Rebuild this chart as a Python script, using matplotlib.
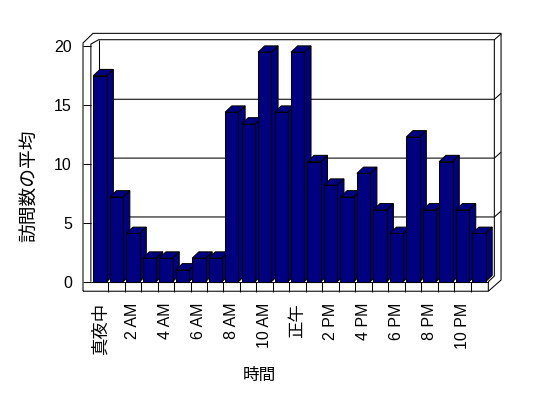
import matplotlib
matplotlib.use("Agg")
import matplotlib.pyplot as plt
from matplotlib.patches import Rectangle, Polygon

plt.rcParams['font.family'] = ['Liberation Sans', 'Noto Sans CJK JP']

# average visits per hour (0..23)
hours = list(range(24))
visits = [17.5, 7.2, 4.1, 2.0, 2.0, 1.0, 2.0, 2.0, 14.4, 13.4, 19.5, 14.4,
          19.5, 10.2, 8.2, 7.2, 9.2, 6.1, 4.1, 12.3, 6.1, 10.2, 6.1, 4.1]
tick_hours = [0, 2, 4, 6, 8, 10, 12, 14, 16, 18, 20, 22]
tick_labels = ['真夜中', '2 AM', '4 AM', '6 AM', '8 AM', '10 AM',
               '正午', '2 PM', '4 PM', '6 PM', '8 PM', '10 PM']
y_ticks = [0, 5, 10, 15, 20]

navy = '#000080'
lw = 0.75
dx, dy = 0.405, 0.535      # depth of a bar (oblique projection)
bx, by = 0.425, 0.5        # offset of the back wall

fig = plt.figure(figsize=(5.48, 3.98), dpi=100)
ax = fig.add_axes([83 / 548, 106.3 / 398, 419 / 548, 258.7 / 398])
ax.set_xlim(-0.528, 24.91)
ax.set_ylim(-0.85, 21.13)
for s in ax.spines.values():
    s.set_visible(False)


def line(xs, ys, z=1):
    ax.plot(xs, ys, color='black', lw=lw, clip_on=False, zorder=z,
            solid_capstyle='butt')


# walls / floor frame
line([-0.528, -0.528, 0.079, 24.852, 24.852, 24.08, -0.528],
     [-0.81, 20.28, 21.1, 21.1, 0.14, -0.81, -0.81])
line([-0.05, -0.05, bx, 24.445, 24.852], [0, 20.19, 20.56, 20.56, 21.05])
line([bx, bx], [20.56, by])
line([24.445, 24.445, 24.08, 24.08], [20.56, 0.48, 0, -0.81])
line([-0.05, 24.08], [0, 0], z=5)

# gridlines on the back wall
for g in y_ticks[1:-1]:
    line([bx, 24.445, 24.852], [g + by, g + by, g + by + 0.5], z=2)

# 3d bars, drawn left to right
for i, v in zip(hours, visits):
    x0, x1 = i + 0.1, i + 0.91
    z = 3 + i * 0.01
    ax.add_patch(Polygon([(x1, 0), (x1 + dx, dy), (x1 + dx, v + dy), (x1, v)],
                         closed=True, fc=navy, ec='black', lw=lw, zorder=z))
    ax.add_patch(Polygon([(x0, v), (x0 + dx, v + dy), (x1 + dx, v + dy), (x1, v)],
                         closed=True, fc=navy, ec='black', lw=lw, zorder=z))
    ax.add_patch(Rectangle((x0, 0), x1 - x0, v, fc=navy, ec='black',
                           lw=lw, zorder=z))

# axes ticks
ax.set_yticks(y_ticks)
ax.tick_params(axis='y', direction='in', length=5.8, width=lw, pad=8,
               labelsize=11.5)
ax.set_xticks([h + 0.5 for h in tick_hours])
ax.set_xticklabels(tick_labels, rotation=90, fontsize=11.5)
ax.set_xticks(list(range(1, 24)), minor=True)
ax.tick_params(axis='x', which='major', length=0, pad=8)
ax.tick_params(axis='x', which='minor', direction='in', length=7.2, width=lw)
for t in ax.get_xticklabels():
    if t.get_text() in ('真夜中', '正午'):
        t.set_fontsize(12.5)

ax.set_ylabel('訪問数の平均', fontsize=13.5)
ax.yaxis.label.set_va('center')
ax.yaxis.set_label_coords(-0.1246, 0.409)
ax.set_xlabel('時間', fontsize=12)
ax.xaxis.label.set_va('center')
ax.xaxis.set_label_coords(0.422, -0.325)

fig.savefig('out.png', dpi=100)
